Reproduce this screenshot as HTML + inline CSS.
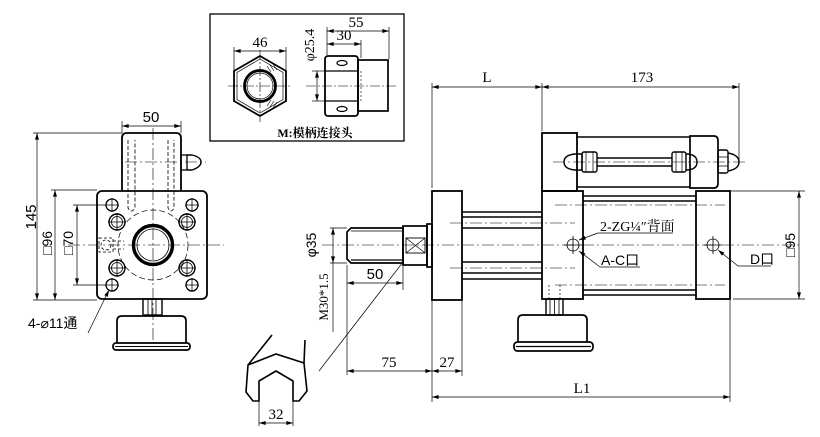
<!DOCTYPE html>
<html><head><meta charset="utf-8"><style>
html,body{margin:0;padding:0;background:#fff;}
svg{display:block;}
.t{font-family:"Liberation Serif","Noto Serif CJK SC",serif;font-size:15px;fill:#000;}
.s{font-family:"Liberation Sans","Noto Sans CJK SC",sans-serif;font-size:13px;fill:#000;}
</style></head><body>
<svg width="820" height="437" viewBox="0 0 820 437" xmlns="http://www.w3.org/2000/svg">
<defs>
<marker id="a" viewBox="0 0 10 6" refX="10" refY="3" markerWidth="7" markerHeight="4" orient="auto-start-reverse" markerUnits="userSpaceOnUse"><path d="M0,0 L10,3 L0,6z"/></marker>
</defs>
<rect width="820" height="437" fill="#fff"/>
<g fill="none" stroke="#000">

<!-- ===== INSET ===== -->
<rect x="210" y="14" width="194" height="127" stroke-width="1.3"/>
<polygon points="260,56 286,71 286,101 260,116 234,101 234,71" stroke-width="1.8"/>
<polygon points="260,59 283,72.5 283,99.5 260,113 237,99.5 237,72.5" stroke-width="0.7"/>
<circle cx="260" cy="86" r="15.5" stroke-width="2.8"/>
<circle cx="260" cy="86" r="13" stroke-width="0.7"/>
<g stroke-width="0.6"><line x1="267" y1="66" x2="271" y2="72"/><line x1="270" y1="65" x2="274" y2="71"/><line x1="273" y1="64" x2="277" y2="70"/><line x1="267" y1="106" x2="271" y2="100"/><line x1="270" y1="107" x2="274" y2="101"/><line x1="273" y1="108" x2="277" y2="102"/></g>
<g stroke-width="0.6" stroke-dasharray="10 2 2 2"><line x1="228" y1="86" x2="292" y2="86"/><line x1="260" y1="50" x2="260" y2="122"/><line x1="306" y1="86" x2="396" y2="86"/></g>
<g stroke-width="0.7"><line x1="234" y1="47" x2="234" y2="70"/><line x1="286" y1="47" x2="286" y2="70"/></g>
<line x1="234" y1="51" x2="286" y2="51" stroke-width="0.7" marker-start="url(#a)" marker-end="url(#a)"/>
<rect x="325" y="56" width="33" height="60" rx="3" stroke-width="1.8"/>
<line x1="325" y1="71" x2="358" y2="71" stroke-width="1.3"/>
<line x1="325" y1="101" x2="358" y2="101" stroke-width="1.3"/>
<ellipse cx="342" cy="63" rx="5" ry="2.5" stroke-width="1.2"/>
<ellipse cx="342" cy="109" rx="5" ry="2.5" stroke-width="1.2"/>
<rect x="358" y="60" width="30" height="51" stroke-width="1.7"/>
<line x1="361" y1="71" x2="361" y2="102" stroke-width="0.6" stroke-dasharray="2 2"/>
<g stroke-width="0.7"><line x1="327" y1="27" x2="327" y2="55"/><line x1="389" y1="27" x2="389" y2="59"/><line x1="361" y1="40" x2="361" y2="58"/><line x1="312" y1="71" x2="325" y2="71"/><line x1="312" y1="101" x2="325" y2="101"/></g>
<line x1="327" y1="31" x2="389" y2="31" stroke-width="0.7" marker-start="url(#a)" marker-end="url(#a)"/>
<line x1="327" y1="44" x2="361" y2="44" stroke-width="0.7" marker-start="url(#a)" marker-end="url(#a)"/>
<line x1="317" y1="71" x2="317" y2="101" stroke-width="0.7" marker-start="url(#a)" marker-end="url(#a)"/>

<!-- ===== LEFT VIEW ===== -->
<path d="M122,191 V138 Q122,133 127,133 H176 Q181,133 181,138 V191" stroke-width="1.8"/>
<g stroke-width="0.8" stroke-dasharray="4 2"><path d="M128,140 V208 Q131.5,214 135,208 V140"/><path d="M168,140 V208 Q171,214 174,208 V140"/></g>
<g stroke-width="0.6" stroke-dasharray="12 3 2 3"><line x1="153" y1="128" x2="153" y2="340"/><line x1="125" y1="162" x2="206" y2="162"/><line x1="68" y1="245" x2="224" y2="245"/></g>
<rect x="181" y="155" width="6" height="15" stroke-width="1.3"/>
<path d="M187,155 H192 Q201,157 201,162 Q201,167 192,170 H187" stroke-width="1.4"/>
<rect x="97" y="191" width="110" height="108" rx="5" stroke-width="1.8"/>
<circle cx="153" cy="245" r="35" stroke-width="0.7" stroke-dasharray="6 3"/>
<circle cx="153" cy="245" r="19.5" stroke-width="3.4"/>
<circle cx="153" cy="245" r="16" stroke-width="0.8"/>
<g stroke-width="1.3"><circle cx="112" cy="205" r="6"/><circle cx="192" cy="205" r="6"/><circle cx="112" cy="285" r="6"/><circle cx="192" cy="285" r="6"/></g>
<g stroke-width="1.4"><circle cx="117" cy="222" r="8"/><circle cx="187" cy="222" r="8"/><circle cx="117" cy="268" r="8"/><circle cx="187" cy="268" r="8"/></g>
<g stroke-width="0.8"><circle cx="117" cy="222" r="5.5"/><circle cx="187" cy="222" r="5.5"/><circle cx="117" cy="268" r="5.5"/><circle cx="187" cy="268" r="5.5"/>
<path d="M108,222h18M117,213v18M178,222h18M187,213v18M108,268h18M117,259v18M178,268h18M187,259v18"/>
<path d="M105,205h14M112,198v14M185,205h14M192,198v14M105,285h14M112,278v14M185,285h14M192,278v14"/></g>
<g stroke-width="0.8" stroke-dasharray="3 2"><rect x="99" y="238" width="14" height="14"/><circle cx="106" cy="245" r="5"/><line x1="113" y1="241" x2="124" y2="241"/><line x1="113" y1="249" x2="124" y2="249"/></g>
<rect x="143" y="299" width="19" height="16" stroke-width="1.4"/>
<path d="M148,299v16M152,299v16M156,299v16" stroke-width="0.8"/>
<path d="M117,343 V321 Q117,316 122,316 H181 Q186,316 186,321 V343" stroke-width="1.7"/>
<rect x="113" y="343" width="77" height="7" rx="3" stroke-width="1.7"/>
<line x1="115" y1="346.5" x2="188" y2="346.5" stroke-width="1.1"/>
<g stroke-width="0.7"><line x1="33" y1="133" x2="122" y2="133"/><line x1="33" y1="300" x2="97" y2="300"/><line x1="51" y1="190" x2="97" y2="190"/><line x1="73" y1="205" x2="106" y2="205"/><line x1="73" y1="285" x2="106" y2="285"/><line x1="122" y1="121" x2="122" y2="133"/><line x1="181" y1="121" x2="181" y2="133"/></g>
<line x1="37" y1="133" x2="37" y2="300" stroke-width="0.7" marker-start="url(#a)" marker-end="url(#a)"/>
<line x1="55" y1="190" x2="55" y2="300" stroke-width="0.7" marker-start="url(#a)" marker-end="url(#a)"/>
<line x1="77" y1="205" x2="77" y2="285" stroke-width="0.7" marker-start="url(#a)" marker-end="url(#a)"/>
<line x1="122" y1="126" x2="181" y2="126" stroke-width="0.7" marker-start="url(#a)" marker-end="url(#a)"/>
<line x1="88" y1="333" x2="109" y2="290" stroke-width="0.7" marker-end="url(#a)"/>

<!-- ===== MAIN VIEW ===== -->
<line x1="322" y1="245" x2="802" y2="245" stroke-width="0.6" stroke-dasharray="12 3 2 3"/>
<path d="M351,228 H403 V263 H351 L347,259 V232 Z" stroke-width="1.7"/>
<line x1="351" y1="231" x2="403" y2="231" stroke-width="0.7"/>
<line x1="351" y1="260" x2="403" y2="260" stroke-width="1.3"/>
<rect x="403" y="226" width="24" height="39" stroke-width="1.7"/>
<rect x="406" y="238" width="19" height="15" stroke-width="0.9"/>
<path d="M406,238 L425,253 M406,253 L425,238" stroke-width="0.7"/>
<rect x="427" y="224" width="5" height="43" stroke-width="1.7"/>
<rect x="432" y="191" width="30" height="109" stroke-width="1.8"/>
<g stroke-width="1.4"><path d="M462,212H542M462,217H542M462,228H542M462,262H542M462,273H542M462,279H542"/></g>
<g stroke-width="0.6" stroke-dasharray="12 3 2 3"><line x1="450" y1="223" x2="575" y2="223"/><line x1="450" y1="268" x2="575" y2="268"/><line x1="555" y1="205" x2="725" y2="205"/><line x1="555" y1="285" x2="725" y2="285"/><line x1="553" y1="162" x2="747" y2="162"/></g>
<rect x="542" y="191" width="41" height="108" stroke-width="1.8"/>
<rect x="542" y="133" width="35" height="58" stroke-width="1.8"/>
<path d="M577,137H690M577,187H690" stroke-width="1.5"/>
<path d="M690,136 H714 Q718,136 718,141 V183 Q718,188 714,188 H690 Z" stroke-width="1.7"/>
<path d="M597,158H672M597,166H672" stroke-width="1.4"/>
<path d="M575,154 Q564,155 564,162 Q564,169 575,170 H582 V154 Z" stroke-width="1.4"/>
<rect x="582" y="152" width="15" height="20" rx="2" stroke-width="1.4"/>
<path d="M586,152v20M593,152v20" stroke-width="0.7"/>
<rect x="672" y="152" width="14" height="20" rx="2" stroke-width="1.4"/>
<path d="M676,152v20M682,152v20" stroke-width="0.7"/>
<path d="M686,154 H688 Q697,155 697,162 Q697,169 688,170 H686" stroke-width="1.4"/>
<rect x="718" y="150" width="10" height="23" rx="2" stroke-width="1.4"/>
<path d="M718,157h10M718,166h10" stroke-width="0.7"/>
<path d="M728,153 Q739,155 739,162 Q739,169 728,171" stroke-width="1.4"/>
<path d="M583,196H696M583,201H696M583,290H696M583,295H696" stroke-width="1.4"/>
<rect x="696" y="191" width="34" height="108" stroke-width="1.8"/>
<g stroke-width="0.8"><circle cx="573" cy="245" r="6"/><circle cx="713" cy="245" r="6"/><path d="M564,245h18M573,236v18M704,245h18M713,236v18"/></g>
<g stroke-width="0.7"><path d="M598,233 H673"/><path d="M600,267 H640"/><path d="M738,266 H771"/></g>
<line x1="598" y1="233" x2="579" y2="240" stroke-width="0.7" marker-end="url(#a)"/>
<line x1="600" y1="267" x2="579" y2="251" stroke-width="0.7" marker-end="url(#a)"/>
<line x1="738" y1="266" x2="718" y2="250" stroke-width="0.7" marker-end="url(#a)"/>
<path d="M549,285v14M560,285v14" stroke-width="0.7" stroke-dasharray="2 2"/>
<rect x="546" y="299" width="17" height="16" stroke-width="1.4"/>
<path d="M550,299v16M554.5,299v16M559,299v16" stroke-width="0.8"/>
<path d="M518,342 V320 Q518,315 523,315 H582 Q587,315 587,320 V342" stroke-width="1.7"/>
<rect x="514" y="342" width="79" height="9" rx="3.5" stroke-width="1.7"/>
<line x1="516" y1="346.5" x2="591" y2="346.5" stroke-width="1.3"/>

<!-- main dims -->
<g stroke-width="0.7">
<line x1="432" y1="83" x2="432" y2="188"/><line x1="542" y1="83" x2="542" y2="131"/><line x1="739" y1="83" x2="739" y2="160"/>
<line x1="730" y1="191" x2="805" y2="191"/><line x1="733" y1="299" x2="805" y2="299"/>
<line x1="330" y1="228" x2="347" y2="228"/><line x1="330" y1="263" x2="347" y2="263"/>
<line x1="333" y1="263" x2="333" y2="332"/>
<line x1="347" y1="265" x2="347" y2="375"/><line x1="403" y1="265" x2="403" y2="290"/>
<line x1="432" y1="300" x2="432" y2="402"/><line x1="462" y1="300" x2="462" y2="376"/><line x1="730" y1="300" x2="730" y2="402"/>
<line x1="403" y1="262" x2="319" y2="371"/>
</g>
<g stroke-width="0.7" marker-start="url(#a)" marker-end="url(#a)">
<line x1="432" y1="87" x2="542" y2="87"/><line x1="542" y1="87" x2="739" y2="87"/>
<line x1="799" y1="191" x2="799" y2="299"/>
<line x1="333" y1="228" x2="333" y2="263"/>
<line x1="347" y1="283" x2="403" y2="283"/>
<line x1="347" y1="371" x2="432" y2="371"/><line x1="432" y1="371" x2="462" y2="371"/>
<line x1="432" y1="397" x2="730" y2="397"/>
<line x1="259" y1="423" x2="293" y2="423"/>
</g>

<!-- wrench -->
<polyline points="272,335 248,365 246,392 253,401 259,401 259,381 276,371 293,381 293,401 299,401 307,391 304,363 305,340" stroke-width="1.6" stroke-linejoin="round"/>
<polyline points="248,365 276,354 304,363" stroke-width="1.6"/>
<path d="M259,401v25M293,401v25" stroke-width="0.7"/>
</g>

<!-- ===== TEXT ===== -->
<text class="t" x="260" y="47" text-anchor="middle">46</text>
<text class="t" x="356" y="27" text-anchor="middle">55</text>
<text class="t" x="344" y="40" text-anchor="middle">30</text>
<text class="t" transform="translate(314,45) rotate(-90)" text-anchor="middle" style="font-size:14px">φ25.4</text>
<text class="t" x="315" y="137" text-anchor="middle" style="font-size:12px;font-weight:bold">M:模柄连接头</text>

<text class="s" x="151" y="122" text-anchor="middle" style="font-size:15px">50</text>
<text class="s" transform="translate(36,217) rotate(-90)" text-anchor="middle" style="font-size:15px">145</text>
<text class="s" transform="translate(52,243) rotate(-90)" text-anchor="middle" style="font-size:14px">□96</text>
<text class="s" transform="translate(73,243) rotate(-90)" text-anchor="middle" style="font-size:14px">□70</text>
<text class="s" x="28" y="328" style="font-size:14px">4-⌀11通</text>

<text class="t" x="487" y="82" text-anchor="middle">L</text>
<text class="t" x="642" y="82" text-anchor="middle">173</text>
<text class="s" transform="translate(795,245) rotate(-90)" text-anchor="middle" style="font-size:14px">□95</text>
<text class="s" transform="translate(316,245) rotate(-90)" text-anchor="middle" style="font-size:14px">φ35</text>
<text class="t" transform="translate(328,297) rotate(-90)" text-anchor="middle" style="font-size:13px">M30*1.5</text>
<text class="s" x="375" y="279" text-anchor="middle" style="font-size:15px">50</text>
<text class="t" x="389" y="367" text-anchor="middle">75</text>
<text class="t" x="447" y="367" text-anchor="middle">27</text>
<text class="t" x="582" y="393" text-anchor="middle">L1</text>
<text class="t" x="276" y="419" text-anchor="middle">32</text>
<text class="t" x="600" y="231" style="font-size:14px">2-ZG¼″背面</text>
<text class="s" x="601" y="265" style="font-size:14px">A-C口</text>
<text class="s" x="750" y="264" style="font-size:14px">D口</text>
</svg>
</body></html>
